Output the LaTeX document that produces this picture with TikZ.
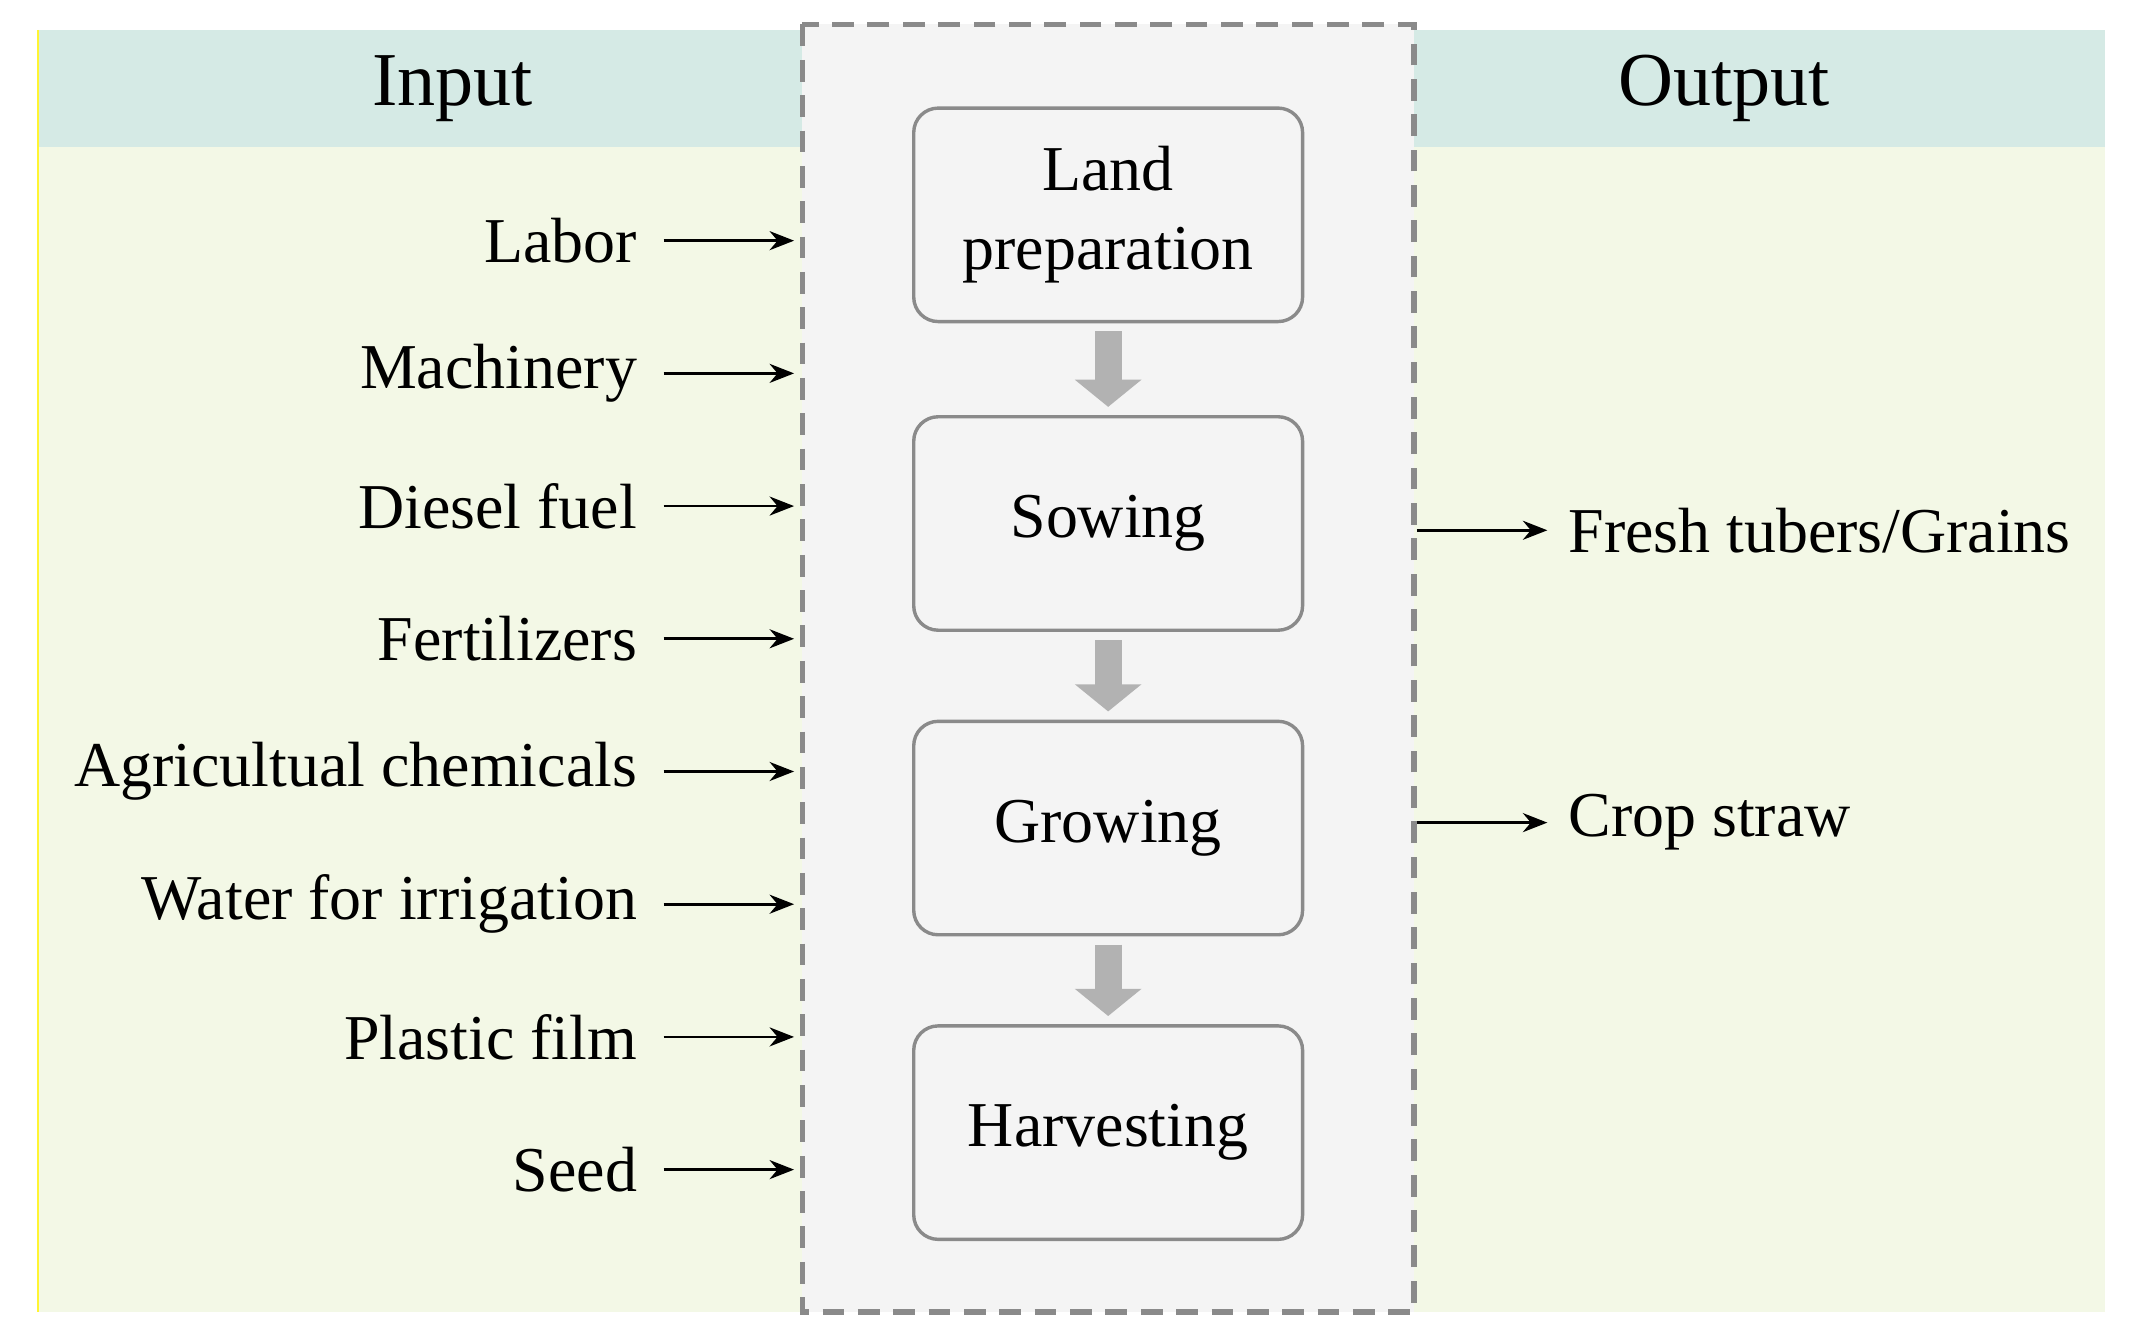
\documentclass[tikz,border=0pt]{standalone}
\usepackage{fontspec}
\setmainfont{Liberation Serif}
\usetikzlibrary{arrows.meta}
\definecolor{hdr}{HTML}{D5EAE5}
\definecolor{bodyc}{HTML}{F3F8E6}
\definecolor{midc}{HTML}{F4F4F4}
\definecolor{bord}{HTML}{8A8A8A}
\tikzset{
 lab/.style={anchor=east,font=\fontsize{47}{54}\selectfont},
 olab/.style={anchor=west,font=\fontsize{47}{54}\selectfont},
 stepbox/.style={draw=bord,line width=2.5pt,rounded corners=18pt,fill=midc,minimum width=286pt,minimum height=157pt,align=center,font=\fontsize{47}{58}\selectfont},
 inarr/.style={-{Stealth[length=18pt,width=14pt]},line width=2pt},
 fat/.style={-{Triangle[length=20pt,width=48pt]},line width=20pt,draw=black!30,shorten <=6pt,shorten >=6pt}
}
\begin{document}
\begin{tikzpicture}[x=1pt,y=-1pt]
\useasboundingbox (0,0) rectangle (1568,987);
\fill[bodyc] (28,108) rectangle (1548,965);
\fill[hdr] (28,22) rectangle (1548,108);
\draw[yellow!80!white,line width=1.5pt] (28,22) -- (28,965);
\node[font=\fontsize{56}{64}\selectfont] (hin) at (333,65) {Input};
\node[font=\fontsize{56}{64}\selectfont] (hout) at (1268,65) {Output};
\draw[bord,fill=midc,line width=4pt,dash pattern=on 16pt off 10pt] (590,18) rectangle (1040,965);
\node[stepbox] (s1) at (815,158) {Land\\preparation};
\node[stepbox] (s2) at (815,385) {Sowing};
\node[stepbox] (s3) at (815,609) {Growing};
\node[stepbox] (s4) at (815,833) {Harvesting};
\draw[fat] (s1.south) -- (s2.north);
\draw[fat] (s2.south) -- (s3.north);
\draw[fat] (s3.south) -- (s4.north);
\foreach \t [count=\i] in {Labor,Machinery,Diesel fuel,Fertilizers,Agricultual chemicals,Water for irrigation,Plastic film,Seed}{
 \node[lab] (in\i) at (472,{177+97.6*(\i-1)}) {\t};
 \coordinate (e\i) at (584,{177+97.6*(\i-1)});
 \draw[inarr] ([xshift=16pt]in\i.east) -- (e\i);
}
\coordinate (o1s) at (1042,390);
\coordinate (o2s) at (1042,605);
\node[olab] (o1) at (1150,390) {Fresh tubers/Grains};
\node[olab] (o2) at (1150,605) {Crop straw};
\draw[inarr] (o1s) -- ([xshift=-12pt]o1.west);
\draw[inarr] (o2s) -- ([xshift=-12pt]o2.west);
\end{tikzpicture}
\end{document}
